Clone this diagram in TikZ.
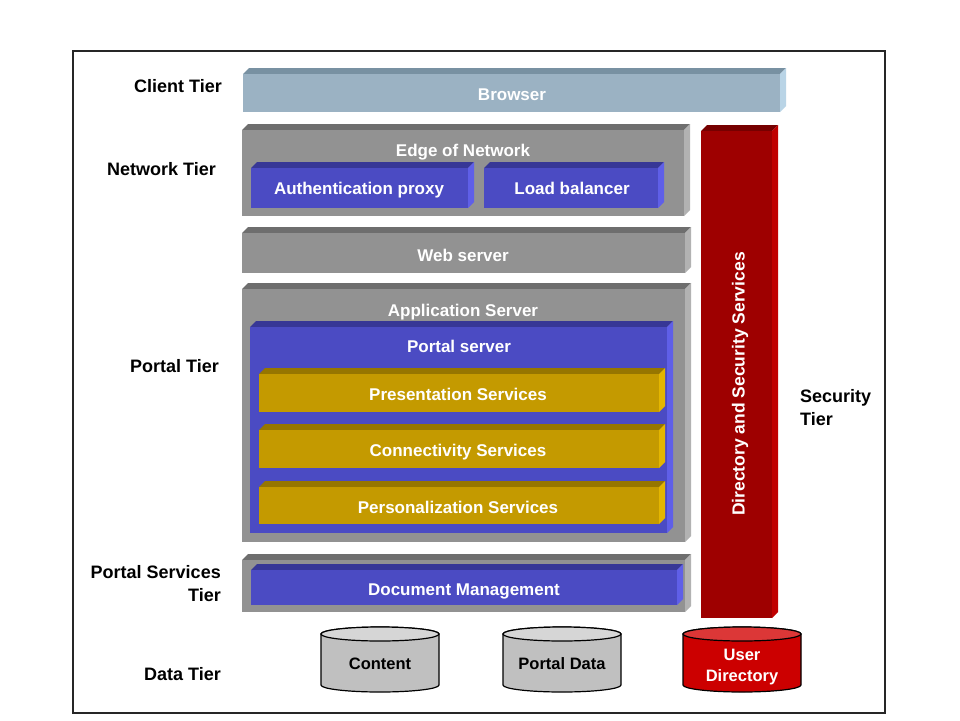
\documentclass[tikz,border=0pt]{standalone}
\usepackage{fontspec}
\setmainfont{Liberation Sans}
\definecolor{brF}{RGB}{155,178,195}
\definecolor{brT}{RGB}{120,145,162}
\definecolor{brS}{RGB}{185,212,230}
\definecolor{gyF}{RGB}{146,146,146}
\definecolor{gyT}{RGB}{110,110,110}
\definecolor{gyS}{RGB}{178,178,178}
\definecolor{blF}{RGB}{75,75,195}
\definecolor{blT}{RGB}{55,55,150}
\definecolor{blS}{RGB}{95,95,232}
\definecolor{gdF}{RGB}{196,154,0}
\definecolor{gdT}{RGB}{150,118,0}
\definecolor{gdS}{RGB}{228,182,0}
\definecolor{rdF}{RGB}{158,0,0}
\definecolor{rdT}{RGB}{118,0,0}
\definecolor{rdS}{RGB}{192,0,0}
\definecolor{cyB}{RGB}{192,192,192}
\definecolor{cyE}{RGB}{214,214,214}
\definecolor{udB}{RGB}{204,0,0}
\definecolor{udE}{RGB}{220,55,55}
\newcommand\tdbox[8]{%
  \fill[#7] (#2,#3) -- ({#2+6},{#3-6}) -- ({#4+6},{#3-6}) -- (#4,#3) -- cycle;
  \fill[#8] (#4,#3) -- ({#4+6},{#3-6}) -- ({#4+6},{#5-6}) -- (#4,#5) -- cycle;
  \node[name=#1, fill=#6, inner sep=0pt, outer sep=0pt, anchor=north west,
        minimum width={#4-#2}, minimum height={#5-#3}] at (#2,#3) {};
}
\newcommand\drum[6]{%
  \filldraw[fill=#5, draw=black, line width=1.2pt]
    ({#2-59},{#3+7}) -- ({#2-59},{#4-7})
    arc[start angle=180, end angle=360, x radius=59pt, y radius=7pt]
    -- ({#2+59},{#3+7})
    arc[start angle=0, end angle=180, x radius=59pt, y radius=7pt] -- cycle;
  \filldraw[fill=#6, draw=black, line width=1.2pt] (#2,{#3+7}) ellipse [x radius=59pt, y radius=7pt];
  \coordinate (#1) at (#2,{(#3+#4)/2});
}
\tikzset{
  boxtext/.style={text=white, font=\bfseries\fontsize{17}{20}\selectfont, inner sep=0pt,
                  text height=12.5pt, text depth=3.5pt},
  tiertext/.style={text=black, font=\bfseries\fontsize{18}{23}\selectfont, inner sep=0pt, align=right},
  dbtext/.style={font=\bfseries\fontsize{16.5}{21}\selectfont, inner sep=0pt, align=center}
}
\begin{document}
\begin{tikzpicture}[x=1pt,y=-1pt]
\useasboundingbox (0,0) rectangle (960,720);
\fill[white] (0,0) rectangle (960,720);
\draw[line width=2pt, black!85] (73,51) rectangle (885,713);

% tier labels
\node[tiertext, anchor=east] (lclient) at (222,86) {Client Tier};
\node[tiertext, anchor=east] (lnet) at (216,169) {Network Tier};
\node[tiertext, anchor=east] (lportal) at (219,366) {Portal Tier};
\node[tiertext, anchor=east] (lpserv) at (221,584) {Portal Services\\Tier};
\node[tiertext, anchor=east] (ldata) at (221,674) {Data Tier};
\node[tiertext, anchor=west, align=left] (lsec) at (800,408) {Security\\Tier};

% boxes
\tdbox{browser}{243}{74}{780}{112}{brF}{brT}{brS}
\node[boxtext] (tbrowser) at (512,95.5) {Browser};

\tdbox{edge}{242}{130}{684}{216}{gyF}{gyT}{gyS}
\node[boxtext] (tedge) at (463,151.5) {Edge of Network};
\tdbox{auth}{251}{168}{468}{208}{blF}{blT}{blS}
\node[boxtext] (tauth) at (359,189.5) {Authentication proxy};
\tdbox{load}{484}{168}{658}{208}{blF}{blT}{blS}
\node[boxtext] (tload) at (572,189.5) {Load balancer};

\tdbox{web}{242}{233}{685}{273}{gyF}{gyT}{gyS}
\node[boxtext] (tweb) at (463,256.5) {Web server};

\tdbox{app}{242}{289}{685}{542}{gyF}{gyT}{gyS}
\node[boxtext] (tapp) at (463,311.5) {Application Server};
\tdbox{portal}{250}{327}{667}{533}{blF}{blT}{blS}
\node[boxtext] (tportal) at (459,347.5) {Portal server};
\tdbox{pres}{259}{374}{659}{412}{gdF}{gdT}{gdS}
\node[boxtext] (tpres) at (458,395.5) {Presentation Services};
\tdbox{conn}{259}{430}{659}{468}{gdF}{gdT}{gdS}
\node[boxtext] (tconn) at (458,451.5) {Connectivity Services};
\tdbox{pers}{259}{487}{659}{524}{gdF}{gdT}{gdS}
\node[boxtext] (tpers) at (458,508.5) {Personalization Services};

\tdbox{pst}{242}{560}{685}{612}{gyF}{gyT}{gyS}
\tdbox{doc}{251}{570}{677}{605}{blF}{blT}{blS}
\node[boxtext] (tdoc) at (464,590.5) {Document Management};

\tdbox{sec}{701}{131}{772}{618}{rdF}{rdT}{rdS}
\node[boxtext, rotate=90, font=\bfseries\fontsize{17.5}{20}\selectfont] (tsec) at (740,384) {Directory and Security Services};

% data stores
\drum{content}{380}{627}{692}{cyB}{cyE}
\node[dbtext, text=black] (tcontent) at (380,664) {Content};
\drum{pdata}{562}{627}{692}{cyB}{cyE}
\node[dbtext, text=black] (tpdata) at (562,664) {Portal Data};
\drum{udir}{742}{627}{692}{udB}{udE}
\node[dbtext, text=white] (tudir) at (742,667) {User\\Directory};
\end{tikzpicture}
\end{document}
